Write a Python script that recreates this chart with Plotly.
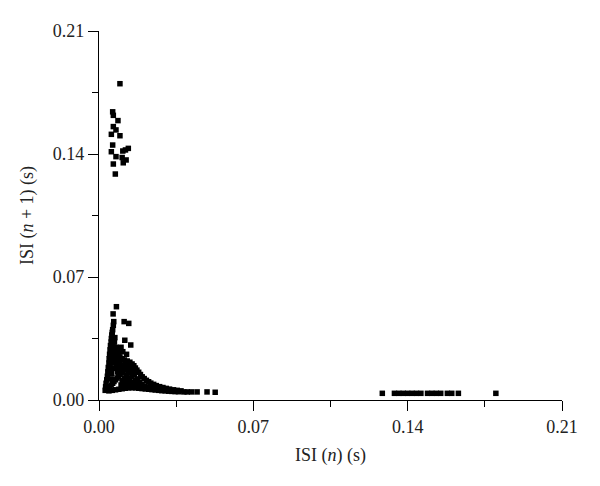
import plotly.graph_objects as go

# Upper-left cluster: short ISI followed by long ISI (s)
upper_x = [0.0095, 0.0062, 0.0065, 0.0086, 0.0065, 0.0077, 0.0056, 0.0095, 0.0062, 0.0133,
           0.0056, 0.0108, 0.0120, 0.0077, 0.0105, 0.0123, 0.0110, 0.0065, 0.0074]
upper_y = [0.1800, 0.1640, 0.1620, 0.1590, 0.1556, 0.1537, 0.1512, 0.1504, 0.1451, 0.1432,
           0.1413, 0.1417, 0.1423, 0.1385, 0.1380, 0.1366, 0.1350, 0.1343, 0.1286]

# Lower-right cluster: long ISI followed by short ISI (s)
right_x = [0.1285, 0.1340, 0.1360, 0.1380, 0.1400, 0.1420, 0.1440, 0.1460, 0.1490, 0.1510,
           0.1530, 0.1550, 0.1580, 0.1600, 0.1630, 0.1800]
right_y = [0.0038, 0.0038, 0.0038, 0.0038, 0.0038, 0.0038, 0.0038, 0.0038, 0.0038, 0.0038,
           0.0038, 0.0038, 0.0038, 0.0038, 0.0038, 0.0038]

# Lower-left dense cluster: intra-burst ISIs (s)
burst_x = [
    0.0028, 0.0030, 0.0032, 0.0035, 0.0038, 0.0040, 0.0042, 0.0045, 0.0046, 0.0048,
    0.0050, 0.0052, 0.0055, 0.0056, 0.0058, 0.0060, 0.0062, 0.0065, 0.0067, 0.0064, 0.0079,
    0.0055, 0.0058, 0.0060, 0.0062, 0.0064, 0.0066, 0.0068, 0.0070, 0.0072, 0.0050,
    0.0052, 0.0055, 0.0058, 0.0060, 0.0063, 0.0070, 0.0074, 0.0078, 0.0082, 0.0086,
    0.0090, 0.0076, 0.0080,
    0.0114, 0.0135, 0.0117, 0.0144, 0.0100, 0.0108, 0.0125,
    0.0095, 0.0105, 0.0115, 0.0128, 0.0140, 0.0150, 0.0158, 0.0165, 0.0172, 0.0180,
    0.0188, 0.0196, 0.0205, 0.0215, 0.0225, 0.0235, 0.0248, 0.0260, 0.0275, 0.0290,
    0.0305, 0.0320, 0.0338, 0.0355, 0.0372,
    0.0040, 0.0048, 0.0055, 0.0062, 0.0068, 0.0075, 0.0082, 0.0088, 0.0095, 0.0102,
    0.0108, 0.0115, 0.0122, 0.0130,
    0.0045, 0.0060, 0.0075, 0.0090, 0.0105, 0.0120, 0.0135, 0.0150, 0.0165, 0.0180,
    0.0195, 0.0210, 0.0225, 0.0240, 0.0255, 0.0270, 0.0285, 0.0300, 0.0315, 0.0330,
    0.0345, 0.0360,
    0.0100, 0.0110, 0.0120, 0.0130, 0.0140, 0.0150, 0.0160, 0.0145, 0.0135, 0.0125,
    0.0115, 0.0105, 0.0120, 0.0135, 0.0150, 0.0165, 0.0175, 0.0155, 0.0140, 0.0130,
    0.0170, 0.0185, 0.0195, 0.0205, 0.0140, 0.0160, 0.0180, 0.0200, 0.0220, 0.0235,
    0.0250, 0.0265, 0.0110, 0.0120, 0.0100, 0.0090, 0.0085, 0.0080, 0.0085, 0.0092,
    0.0385, 0.0400, 0.0420, 0.0445, 0.0490, 0.0527,
]
burst_y = [
    0.0055, 0.0075, 0.0095, 0.0115, 0.0135, 0.0160, 0.0185, 0.0210, 0.0235, 0.0260,
    0.0285, 0.0310, 0.0330, 0.0350, 0.0370, 0.0385, 0.0400, 0.0425, 0.0446, 0.0490, 0.0531,
    0.0120, 0.0150, 0.0180, 0.0210, 0.0240, 0.0270, 0.0300, 0.0330, 0.0355, 0.0200,
    0.0230, 0.0260, 0.0280, 0.0300, 0.0320, 0.0250, 0.0280, 0.0300, 0.0275, 0.0290,
    0.0265, 0.0225, 0.0245,
    0.0446, 0.0436, 0.0340, 0.0313, 0.0300, 0.0275, 0.0260,
    0.0245, 0.0235, 0.0228, 0.0222, 0.0215, 0.0205, 0.0195, 0.0182, 0.0170, 0.0158,
    0.0145, 0.0132, 0.0122, 0.0112, 0.0104, 0.0096, 0.0089, 0.0082, 0.0076, 0.0071,
    0.0066, 0.0062, 0.0058, 0.0055, 0.0052,
    0.0065, 0.0075, 0.0085, 0.0095, 0.0105, 0.0115, 0.0125, 0.0135, 0.0145, 0.0155,
    0.0165, 0.0175, 0.0185, 0.0195,
    0.0052, 0.0055, 0.0058, 0.0061, 0.0064, 0.0067, 0.0069, 0.0070, 0.0069, 0.0067,
    0.0065, 0.0063, 0.0061, 0.0059, 0.0057, 0.0055, 0.0053, 0.0052, 0.0050, 0.0049,
    0.0048, 0.0047,
    0.0085, 0.0095, 0.0105, 0.0115, 0.0125, 0.0135, 0.0145, 0.0170, 0.0155, 0.0140,
    0.0125, 0.0110, 0.0080, 0.0090, 0.0100, 0.0110, 0.0120, 0.0160, 0.0185, 0.0170,
    0.0090, 0.0100, 0.0088, 0.0080, 0.0078, 0.0082, 0.0078, 0.0072, 0.0075, 0.0070,
    0.0066, 0.0063, 0.0200, 0.0210, 0.0190, 0.0175, 0.0160, 0.0185, 0.0210, 0.0220,
    0.0046, 0.0046, 0.0046, 0.0046, 0.0046, 0.0044,
]

x_ticks = [0.0, 0.07, 0.14, 0.21]
y_ticks = [0.0, 0.07, 0.14, 0.21]

all_x = burst_x + upper_x + right_x
all_y = burst_y + upper_y + right_y

fig = go.Figure()
fig.add_trace(go.Scatter(
    x=all_x, y=all_y, mode="markers",
    marker=dict(symbol="square", size=5.5, color="black", line=dict(width=0)),
    cliponaxis=False, showlegend=False,
))

font = "Liberation Serif, Times New Roman, serif"
axis_common = dict(
    range=[0, 0.21], tickvals=x_ticks, tickformat=".2f",
    showline=True, linecolor="black", linewidth=1.3,
    ticks="outside", ticklen=10, tickwidth=1.3, tickcolor="black",
    showgrid=False, zeroline=False,
    tickfont=dict(family=font, size=18, color="#222"),
    minor=dict(tickvals=[0.035, 0.105, 0.175], ticks="outside", ticklen=6,
               tickwidth=1.3, tickcolor="black", showgrid=False),
)

fig.update_layout(
    width=600, height=486,
    margin=dict(l=91, r=46, t=23, b=94),
    paper_bgcolor="white", plot_bgcolor="white",
    xaxis=dict(**axis_common,
               title=dict(text="ISI (<i>n</i>) (s)", font=dict(family=font, size=18, color="#222"), standoff=12)),
    yaxis=dict(**{**axis_common, "tickvals": y_ticks},
               title=dict(text="ISI (<i>n</i> + 1) (s)", font=dict(family=font, size=18, color="#222"), standoff=14)),
)

fig.write_html("out.html")
